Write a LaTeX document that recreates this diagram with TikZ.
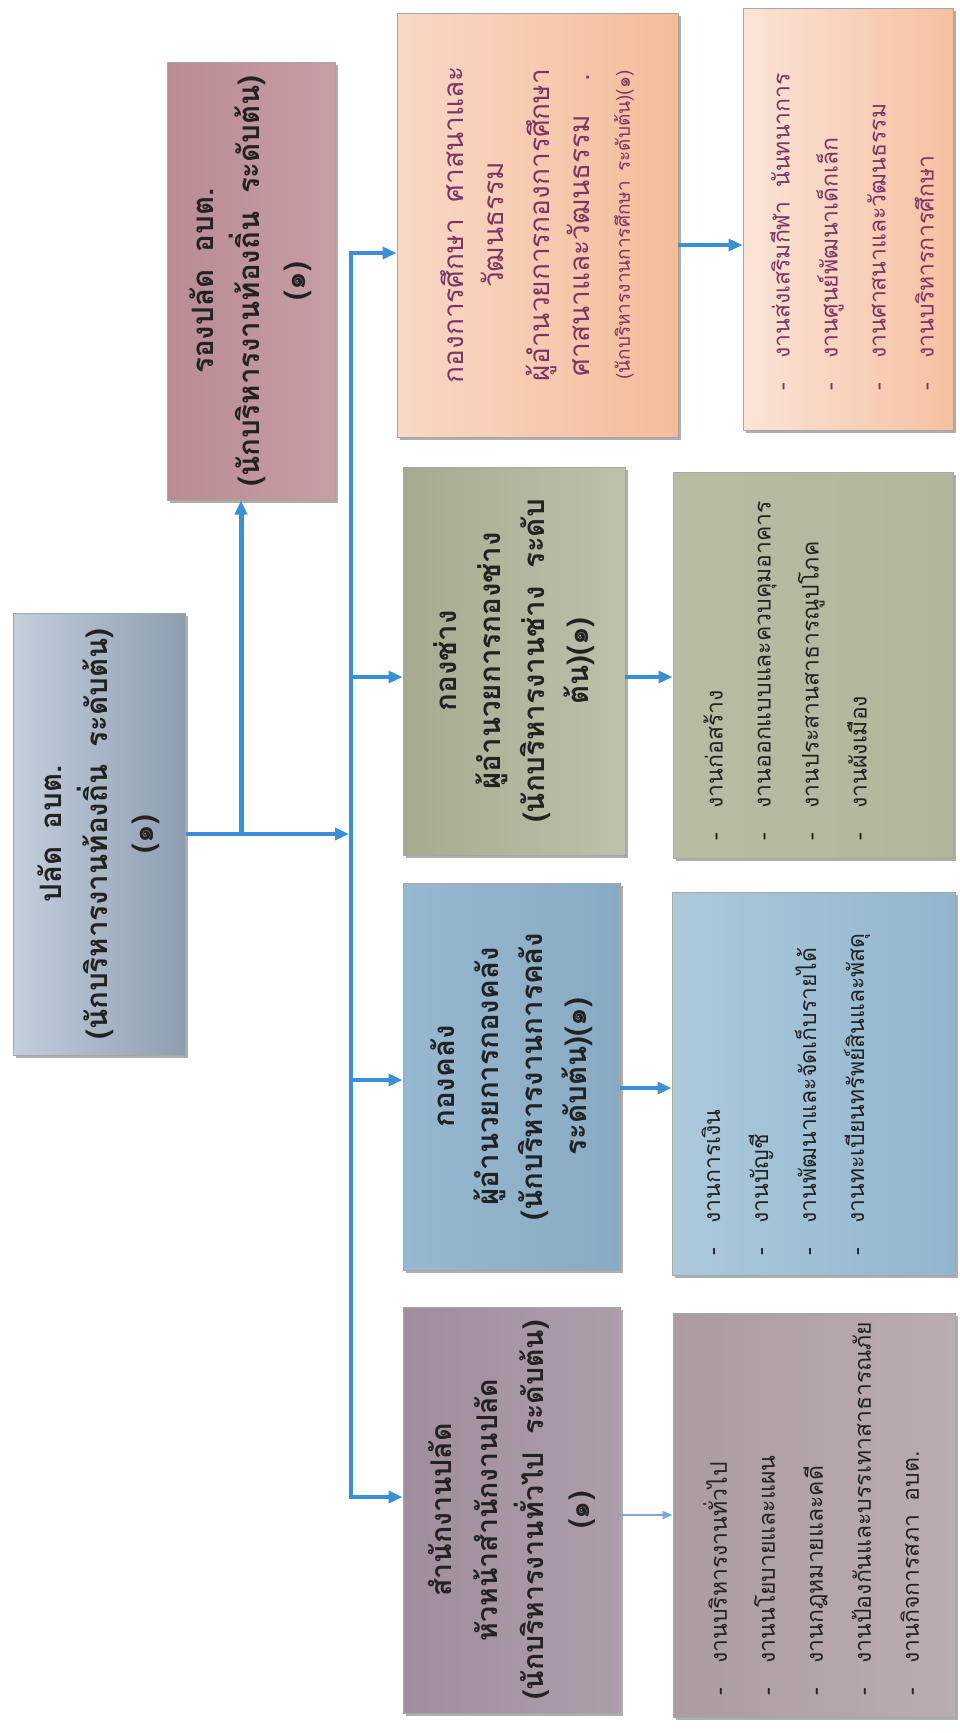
\documentclass[tikz,border=0pt]{standalone}
\usepackage{fontspec}
\newfontfamily\thai[Script=Thai]{Loma}
\usetikzlibrary{arrows.meta,shadows,fit}
\definecolor{arrblue}{HTML}{3A8FD6}
\definecolor{thinblue}{HTML}{7FA6D6}
\definecolor{purpletext}{HTML}{7D3466}
\definecolor{darktext}{HTML}{222222}
\definecolor{bzL}{RGB}{196,207,220}\definecolor{bzM}{RGB}{222,228,236}\definecolor{bzR}{RGB}{142,157,177}
\definecolor{boL}{RGB}{186,139,147}\definecolor{boM}{RGB}{220,190,194}\definecolor{boR}{RGB}{198,158,164}
\definecolor{etL}{RGB}{249,216,198}\definecolor{etM}{RGB}{252,238,230}\definecolor{etR}{RGB}{245,188,154}
\definecolor{elL}{RGB}{251,228,215}\definecolor{elM}{RGB}{254,243,237}\definecolor{elR}{RGB}{246,192,160}
\definecolor{ntL}{RGB}{166,171,143}\definecolor{ntM}{RGB}{228,229,218}\definecolor{ntR}{RGB}{190,193,171}
\definecolor{nlL}{RGB}{184,188,163}\definecolor{nlM}{RGB}{234,235,226}\definecolor{nlR}{RGB}{178,182,155}
\definecolor{ftL}{RGB}{150,184,208}\definecolor{ftM}{RGB}{222,234,242}\definecolor{ftR}{RGB}{136,170,195}
\definecolor{flL}{RGB}{172,201,219}\definecolor{flM}{RGB}{228,238,245}\definecolor{flR}{RGB}{146,182,206}
\definecolor{otL}{RGB}{160,141,157}\definecolor{otM}{RGB}{220,210,217}\definecolor{otR}{RGB}{174,158,170}
\definecolor{olL}{RGB}{172,154,164}\definecolor{olM}{RGB}{226,217,222}\definecolor{olR}{RGB}{186,172,180}
\begin{document}
\begin{tikzpicture}[x=1pt,y=-1pt,
  box/.style={draw=black!35, line width=1pt, inner sep=0pt,
    drop shadow={shadow xshift=3pt, shadow yshift=-3pt, opacity=0.45, fill=black!70}},
  b0col/.style={box, left color=bzL, middle color=bzM, right color=bzR},
  b1col/.style={box, left color=boL, middle color=boM, right color=boR},
  eduT/.style={box, left color=etL, middle color=etM, right color=etR},
  eduL/.style={box, left color=elL, middle color=elM, right color=elR},
  engT/.style={box, left color=ntL, middle color=ntM, right color=ntR},
  engL/.style={box, left color=nlL, middle color=nlM, right color=nlR},
  finT/.style={box, left color=ftL, middle color=ftM, right color=ftR},
  finL/.style={box, left color=flL, middle color=flM, right color=flR},
  offT/.style={box, left color=otL, middle color=otM, right color=otR},
  offL/.style={box, left color=olL, middle color=olM, right color=olR},
  title/.style={rotate=90, align=center, text=darktext, font=\thai\bfseries\fontsize{29.5}{46}\selectfont},
  list/.style={rotate=90, anchor=west, align=left, text=darktext, font=\thai\fontsize{23}{48}\selectfont},
  conn/.style={draw=arrblue, line width=3.5pt},
  arr/.style={conn, -{Triangle[length=14pt,width=12pt]}}
]
\useasboundingbox (0,0) rectangle (960,1733);
\fill[white] (0,0) rectangle (960,1733);

% boxes
\node[b0col, fit={(13,613) (185,1055)}] (b0) {};
\node[b1col, fit={(167,62) (335,500)}] (b1) {};
\node[eduT, fit={(397,13) (678,437)}] (d4) {};
\node[engT, fit={(403,467) (625,855)}] (d3) {};
\node[finT, fit={(403,883) (620,1270)}] (d2) {};
\node[offT, fit={(403,1307) (620,1713)}] (d1) {};
\node[eduL, fit={(743,8) (953,430)}] (s4) {};
\node[engL, fit={(673,472) (953,858)}] (s3) {};
\node[finL, fit={(672,892) (955,1275)}] (s2) {};
\node[offL, fit={(673,1313) (955,1717)}] (s1) {};

% titles
\node[title] (t0) at (b0.center) {ปลัด\hspace{0.6em}อบต.\\(นักบริหารงานท้องถิ่น\hspace{0.6em}ระดับต้น)\\(๑)};
\node[title] (t1) at (b1.center) {รองปลัด\hspace{0.6em}อบต.\\(นักบริหารงานท้องถิ่น\hspace{0.6em}ระดับต้น)\\(๑)};
\node[title, text=purpletext, font=\thai\fontsize{28}{40}\selectfont] (t4) at (d4.center) {กองการศึกษา\hspace{0.6em}ศาสนาและ\\วัฒนธรรม\\[6pt]ผู้อำนวยการกองการศึกษา\\ศาสนาและวัฒนธรรม\hspace{1.2em}.\\{\fontsize{19}{30}\selectfont(นักบริหารงานการศึกษา\hspace{0.5em}ระดับต้น)(๑)}};
\node[title, font=\thai\bfseries\fontsize{29.5}{44}\selectfont] (t3) at (d3.center) {กองช่าง\\ผู้อำนวยการกองช่าง\\(นักบริหารงานช่าง\hspace{0.6em}ระดับ\\ต้น)(๑)};
\node[title, font=\thai\bfseries\fontsize{29.5}{44}\selectfont] (t2) at (d2.center) {กองคลัง\\ผู้อำนวยการกองคลัง\\(นักบริหารงานการคลัง\\ระดับต้น)(๑)};
\node[title, font=\thai\bfseries\fontsize{28.5}{46}\selectfont] (t1b) at (d1.center) {สำนักงานปลัด\\หัวหน้าสำนักงานปลัด\\(นักบริหารงานทั่วไป\hspace{0.6em}ระดับต้น)\\(๑)};

% lists
\node[list, text=purpletext] (l4) at (852,394) {\makebox[32pt][l]{-}งานส่งเสริมกีฬา\hspace{0.6em}นันทนาการ\\\makebox[32pt][l]{-}งานศูนย์พัฒนาเด็กเล็ก\\\makebox[32pt][l]{-}งานศาสนาและวัฒนธรรม\\\makebox[32pt][l]{-}งานบริหารการศึกษา};
\node[list] (l3) at (785,844) {\makebox[32pt][l]{-}งานก่อสร้าง\\\makebox[32pt][l]{-}งานออกแบบและควบคุมอาคาร\\\makebox[32pt][l]{-}งานประสานสาธารณูปโภค\\\makebox[32pt][l]{-}งานผังเมือง};
\node[list] (l2) at (786,1259) {\makebox[32pt][l]{-}งานการเงิน\\\makebox[32pt][l]{-}งานบัญชี\\\makebox[32pt][l]{-}งานพัฒนาและจัดเก็บรายได้\\\makebox[32pt][l]{-}งานทะเบียนทรัพย์สินและพัสดุ};
\node[list] (l1) at (811,1699) {\makebox[32pt][l]{-}งานบริหารงานทั่วไป\\\makebox[32pt][l]{-}งานนโยบายและแผน\\\makebox[32pt][l]{-}งานกฎหมายและคดี\\\makebox[32pt][l]{-}งานป้องกันและบรรเทาสาธารณภัย\\\makebox[32pt][l]{-}งานกิจการสภา\hspace{0.6em}อบต.};

% connectors
\coordinate (j0) at (351,834);
\coordinate (br) at (241,834);
\coordinate (bt) at (351,253);
\coordinate (k3) at (351,677);
\coordinate (k2) at (351,1080);
\coordinate (bb) at (351,1497);
\draw[arr, shorten >=2pt] (b0.east) -- (j0);
\draw[arr, line width=5pt] (br) -- (br |- b1.south);
\draw[conn, line cap=rect] (bt) -- (bb);
\draw[arr] (bt) -- (bt -| d4.west);
\draw[arr] (k3) -- (k3 -| d3.west);
\draw[arr] (k2) -- (k2 -| d2.west);
\draw[arr] (bb) -- (bb -| d1.west);

\coordinate (m4) at (678,245);
\coordinate (m3) at (625,677);
\coordinate (m2) at (620,1088);
\coordinate (m1) at (620,1515);
\draw[arr] (m4) -- (m4 -| s4.west);
\draw[arr] (m3) -- (m3 -| s3.west);
\draw[arr] (m2) -- (m2 -| s2.west);
\draw[draw=thinblue, line width=1.8pt, -{Triangle[length=10pt,width=8pt]}] (m1) -- (m1 -| s1.west);
\end{tikzpicture}
\end{document}
